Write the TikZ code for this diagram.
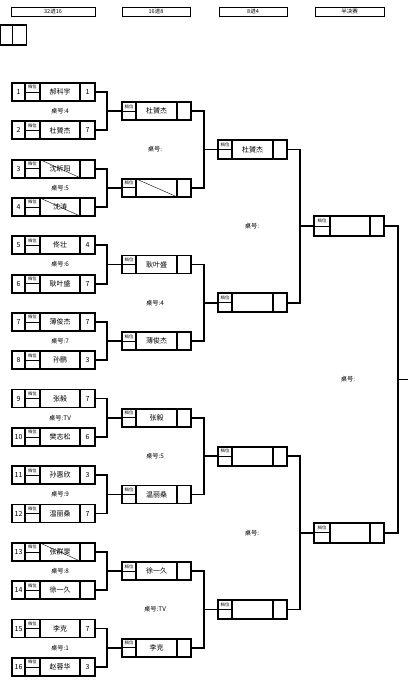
\documentclass[tikz,border=0pt]{standalone}
\usepackage{fontspec}
\setmainfont{Noto Sans CJK SC}

\begin{document}
\begin{tikzpicture}[x=1pt,y=-1pt,
  slot/.style={draw,line width=1.7pt,minimum height=18pt,inner sep=0pt,outer sep=0pt},
  cell/.style={line width=1.7pt},
  wire/.style={line width=1.7pt},
  head/.style={draw,line width=.6pt,minimum height=9pt,inner sep=0pt,font=\fontsize{5.5}{6}\selectfont},
  txt/.style={font=\fontsize{7}{8}\selectfont,inner sep=0pt},
  tag/.style={font=\fontsize{4.4}{4.6}\selectfont,inner sep=0pt},
  desk/.style={font=\fontsize{6.3}{7}\selectfont,inner sep=0pt}]
\useasboundingbox[fill=white] (0,0) rectangle (408,691);
% round headers
\foreach \x/\w/\t [count=\h] in {53/84/32进16,156/68/16进8,253/68/8进4,349.5/69/半决赛}
  \node[head,minimum width=\w pt] (head\h) at (\x,11.5) {\t};
\node[slot,minimum width=26pt,minimum height=20pt] (corner) at (13.5,35) {};
\draw[cell] (12.5,25) -- (12.5,45);
% first round
\foreach \i/\p/\s/\x in {1/郝科宇/1/0,2/杜贇杰/7/0,3/沈昕阳//1,4/沈涛//1,5/佟壮/4/0,6/耿叶盛/7/0,7/薄俊杰/7/0,8/孙鹏/3/0,9/张毅/7/0,10/樊志松/6/0,11/孙惠欣/3/0,12/温丽桑/7/0,13/张群斐//1,14/徐一久//0,15/李克/7/0,16/赵蓉华/3/0}{
  \pgfmathsetmacro\yc{92+(\i-1)*38.33}
  \node[slot,minimum width=83pt] (a\i) at (53.5,\yc) {};
  \draw[cell] (25,\yc-9) -- (25,\yc+9) (40,\yc-9) -- (40,\yc+9) (80,\yc-9) -- (80,\yc+9);
  \draw[line width=.8pt] (25,\yc) -- (40,\yc);
  \node[txt] (seed\i) at (18.5,\yc) {\i};
  \node[tag] (tag\i) at (32.5,\yc-4.8) {档位};
  \node[txt] (who\i) at (60,\yc) {\p};
  \node[txt] (pts\i) at (87.5,\yc) {\s};
  \ifnum\x=1 \draw[thin] (40,\yc-9) -- (80,\yc+9); \fi
}
% second round
\foreach \j/\p/\x in {1/杜贇杰/0,2//1,3/耿叶盛/0,4/薄俊杰/0,5/张毅/0,6/温丽桑/0,7/徐一久/0,8/李克/0}{
  \pgfmathsetmacro\yc{111.17+(\j-1)*76.67}
  \node[slot,minimum width=69pt] (b\j) at (156.5,\yc) {};
  \draw[cell] (136,\yc-9) -- (136,\yc+9) (177,\yc-9) -- (177,\yc+9);
  \draw[line width=.8pt] (122,\yc) -- (136,\yc);
  \node[tag] (btag\j) at (129,\yc-4.8) {档位};
  \node[txt] (bwho\j) at (156.5,\yc) {\p};
  \ifnum\x=1 \draw[thin] (136,\yc-9) -- (177,\yc+9); \fi
}
% quarter final
\foreach \k/\p in {1/杜贇杰,2/,3/,4/}{
  \pgfmathsetmacro\yc{149.5+(\k-1)*153.33}
  \node[slot,minimum width=69pt,minimum height=19pt] (c\k) at (252.5,\yc) {};
  \draw[cell] (232,\yc-9.5) -- (232,\yc+9.5) (273,\yc-9.5) -- (273,\yc+9.5);
  \draw[line width=.8pt] (218,\yc) -- (232,\yc);
  \node[tag] (ctag\k) at (225,\yc-5) {档位};
  \node[txt] (cwho\k) at (252.5,\yc) {\p};
}
% semi final
\foreach \m in {1,2}{
  \pgfmathsetmacro\yc{226.2+(\m-1)*306.67}
  \node[slot,minimum width=70pt,minimum height=20pt] (s\m) at (349,\yc) {};
  \draw[cell] (330,\yc-10) -- (330,\yc+10) (370,\yc-10) -- (370,\yc+10);
  \draw[line width=.8pt] (314,\yc) -- (330,\yc);
  \node[tag] (stag\m) at (322,\yc-5.5) {档位};
}
\coordinate (champ) at (408,379.5);
% connectors
\foreach \j in {1,...,8}{
  \pgfmathtruncatemacro\u{2*\j-1}
  \pgfmathtruncatemacro\v{2*\j}
  \draw[wire] (a\u.east) -- ++(12,0) |- (b\j.west) (a\v.east) -- ++(12,0) |- (b\j.west);
}
\foreach \k in {1,...,4}{
  \pgfmathtruncatemacro\u{2*\k-1}
  \pgfmathtruncatemacro\v{2*\k}
  \draw[wire] (b\u.east) -- ++(13,0) |- (c\k.west) (b\v.east) -- ++(13,0) |- (c\k.west);
}
\foreach \m in {1,2}{
  \pgfmathtruncatemacro\u{2*\m-1}
  \pgfmathtruncatemacro\v{2*\m}
  \draw[wire] (c\u.east) -- ++(13,0) |- (s\m.west) (c\v.east) -- ++(13,0) |- (s\m.west);
}
\draw[wire] (s1.east) -- ++(14,0) |- (champ) (s2.east) -- ++(14,0) |- (champ);
% table numbers
\foreach \j/\t in {1/4,2/5,3/6,4/7,5/TV,6/9,7/8,8/1}{
  \pgfmathsetmacro\yc{111.17+(\j-1)*76.67}
  \node[desk] (desk\j) at (60,\yc) {桌号:\t};
}
\foreach \k/\t in {1/,2/4,3/5,4/TV}{
  \pgfmathsetmacro\yc{149.5+(\k-1)*153.33}
  \node[desk] (bdesk\k) at (155,\yc) {桌号:\t};
}
\foreach \m in {1,2}{
  \pgfmathsetmacro\yc{226.2+(\m-1)*306.67}
  \node[desk] (cdesk\m) at (252,\yc) {桌号:};
}
\node[desk] (sdesk) at (348,379.5) {桌号:};
\end{tikzpicture}
\end{document}
